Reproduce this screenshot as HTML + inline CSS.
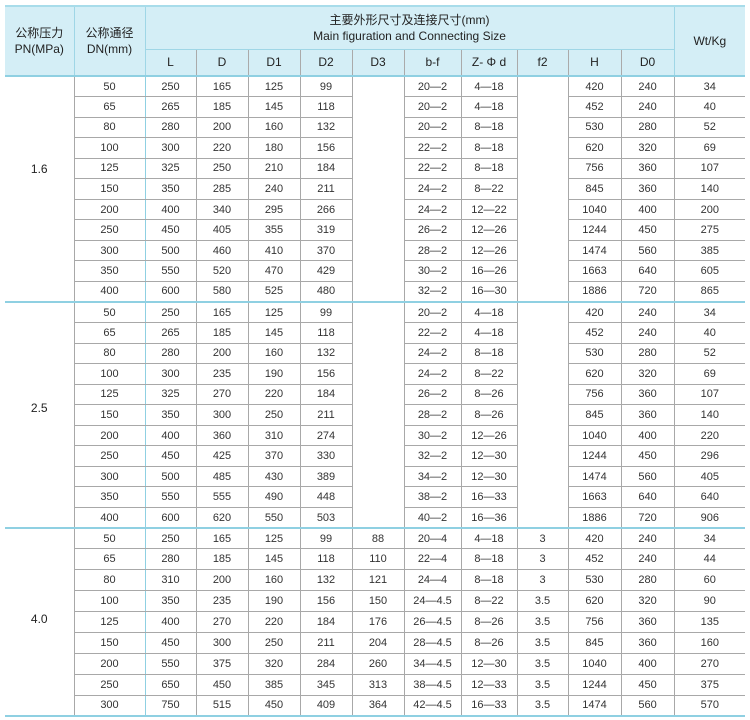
<!DOCTYPE html>
<html><head><meta charset="utf-8"><style>
body{margin:0;background:#fff;width:750px;height:720px;overflow:hidden}
table{position:absolute;left:5px;top:5px;border-collapse:collapse;table-layout:fixed;width:740px;font-family:"Liberation Sans","Noto Sans CJK SC",sans-serif;font-size:11px;color:#333}
td,th{padding:0;text-align:center;border:1px solid #a8a8a8;font-weight:normal;overflow:hidden;white-space:nowrap}
th{background:#d4eef6;border-color:#9fd6e6;font-size:12px;color:#222;line-height:16px}
thead tr:first-child th{border-top:2px solid #a8dcea}
thead tr:last-child th{border-bottom:2px solid #8fd0e2}
th.s{border-left-color:#aaa;border-right-color:#aaa;border-top-color:#aaa}
tbody tr{height:20.55px}
tbody.g3 tr{height:20.9px}
td.p{border-left:none;border-top:2px solid #8fd0e2;border-bottom:2px solid #8fd0e2;font-size:12px;color:#222;vertical-align:top}
tbody tr:first-child td{border-top:2px solid #8fd0e2}
td.bl{border-right:1px solid #8fd0e2}
td.w{border-left:1px solid #8fd0e2;border-right:none}
th.w{border-right:none}
th.f{border-left:none}
</style></head><body>
<table>
<colgroup><col style="width:69px"><col style="width:71px"><col style="width:51px"><col style="width:52px"><col style="width:52px"><col style="width:52px"><col style="width:52px"><col style="width:57px"><col style="width:56px"><col style="width:51px"><col style="width:53px"><col style="width:53px"><col style="width:71px"></colgroup>
<thead>
<tr style="height:43px"><th rowspan="2" class="f" style="vertical-align:top;padding-top:18px">公称压力<br>PN(MPa)</th><th rowspan="2" style="vertical-align:top;padding-top:18px">公称通径<br>DN(mm)</th><th colspan="10">主要外形尺寸及连接尺寸(mm)<br>Main figuration and Connecting Size</th><th rowspan="2" class="w">Wt/Kg</th></tr>
<tr style="height:27px"><th class="s">L</th><th class="s">D</th><th class="s">D1</th><th class="s">D2</th><th class="s">D3</th><th class="s">b-f</th><th class="s">Z- Φ d</th><th class="s">f2</th><th class="s">H</th><th class="s">D0</th></tr>
</thead>
<tbody>
<tr><td rowspan="11" class="p"><div style="padding-top:85px">1.6</div></td><td class="bl">50</td><td>250</td><td>165</td><td>125</td><td>99</td><td rowspan="11"></td><td>20—2</td><td>4—18</td><td rowspan="11"></td><td>420</td><td>240</td><td class="w">34</td></tr>
<tr><td class="bl">65</td><td>265</td><td>185</td><td>145</td><td>118</td><td>20—2</td><td>4—18</td><td>452</td><td>240</td><td class="w">40</td></tr>
<tr><td class="bl">80</td><td>280</td><td>200</td><td>160</td><td>132</td><td>20—2</td><td>8—18</td><td>530</td><td>280</td><td class="w">52</td></tr>
<tr><td class="bl">100</td><td>300</td><td>220</td><td>180</td><td>156</td><td>22—2</td><td>8—18</td><td>620</td><td>320</td><td class="w">69</td></tr>
<tr><td class="bl">125</td><td>325</td><td>250</td><td>210</td><td>184</td><td>22—2</td><td>8—18</td><td>756</td><td>360</td><td class="w">107</td></tr>
<tr><td class="bl">150</td><td>350</td><td>285</td><td>240</td><td>211</td><td>24—2</td><td>8—22</td><td>845</td><td>360</td><td class="w">140</td></tr>
<tr><td class="bl">200</td><td>400</td><td>340</td><td>295</td><td>266</td><td>24—2</td><td>12—22</td><td>1040</td><td>400</td><td class="w">200</td></tr>
<tr><td class="bl">250</td><td>450</td><td>405</td><td>355</td><td>319</td><td>26—2</td><td>12—26</td><td>1244</td><td>450</td><td class="w">275</td></tr>
<tr><td class="bl">300</td><td>500</td><td>460</td><td>410</td><td>370</td><td>28—2</td><td>12—26</td><td>1474</td><td>560</td><td class="w">385</td></tr>
<tr><td class="bl">350</td><td>550</td><td>520</td><td>470</td><td>429</td><td>30—2</td><td>16—26</td><td>1663</td><td>640</td><td class="w">605</td></tr>
<tr><td class="bl">400</td><td>600</td><td>580</td><td>525</td><td>480</td><td>32—2</td><td>16—30</td><td>1886</td><td>720</td><td class="w">865</td></tr>
</tbody>
<tbody>
<tr><td rowspan="11" class="p"><div style="padding-top:98px">2.5</div></td><td class="bl">50</td><td>250</td><td>165</td><td>125</td><td>99</td><td rowspan="11"></td><td>20—2</td><td>4—18</td><td rowspan="11"></td><td>420</td><td>240</td><td class="w">34</td></tr>
<tr><td class="bl">65</td><td>265</td><td>185</td><td>145</td><td>118</td><td>22—2</td><td>4—18</td><td>452</td><td>240</td><td class="w">40</td></tr>
<tr><td class="bl">80</td><td>280</td><td>200</td><td>160</td><td>132</td><td>24—2</td><td>8—18</td><td>530</td><td>280</td><td class="w">52</td></tr>
<tr><td class="bl">100</td><td>300</td><td>235</td><td>190</td><td>156</td><td>24—2</td><td>8—22</td><td>620</td><td>320</td><td class="w">69</td></tr>
<tr><td class="bl">125</td><td>325</td><td>270</td><td>220</td><td>184</td><td>26—2</td><td>8—26</td><td>756</td><td>360</td><td class="w">107</td></tr>
<tr><td class="bl">150</td><td>350</td><td>300</td><td>250</td><td>211</td><td>28—2</td><td>8—26</td><td>845</td><td>360</td><td class="w">140</td></tr>
<tr><td class="bl">200</td><td>400</td><td>360</td><td>310</td><td>274</td><td>30—2</td><td>12—26</td><td>1040</td><td>400</td><td class="w">220</td></tr>
<tr><td class="bl">250</td><td>450</td><td>425</td><td>370</td><td>330</td><td>32—2</td><td>12—30</td><td>1244</td><td>450</td><td class="w">296</td></tr>
<tr><td class="bl">300</td><td>500</td><td>485</td><td>430</td><td>389</td><td>34—2</td><td>12—30</td><td>1474</td><td>560</td><td class="w">405</td></tr>
<tr><td class="bl">350</td><td>550</td><td>555</td><td>490</td><td>448</td><td>38—2</td><td>16—33</td><td>1663</td><td>640</td><td class="w">640</td></tr>
<tr><td class="bl">400</td><td>600</td><td>620</td><td>550</td><td>503</td><td>40—2</td><td>16—36</td><td>1886</td><td>720</td><td class="w">906</td></tr>
</tbody>
<tbody class="g3">
<tr><td rowspan="9" class="p"><div style="padding-top:83px">4.0</div></td><td class="bl">50</td><td>250</td><td>165</td><td>125</td><td>99</td><td>88</td><td>20—4</td><td>4—18</td><td>3</td><td>420</td><td>240</td><td class="w">34</td></tr>
<tr><td class="bl">65</td><td>280</td><td>185</td><td>145</td><td>118</td><td>110</td><td>22—4</td><td>8—18</td><td>3</td><td>452</td><td>240</td><td class="w">44</td></tr>
<tr><td class="bl">80</td><td>310</td><td>200</td><td>160</td><td>132</td><td>121</td><td>24—4</td><td>8—18</td><td>3</td><td>530</td><td>280</td><td class="w">60</td></tr>
<tr><td class="bl">100</td><td>350</td><td>235</td><td>190</td><td>156</td><td>150</td><td>24—4.5</td><td>8—22</td><td>3.5</td><td>620</td><td>320</td><td class="w">90</td></tr>
<tr><td class="bl">125</td><td>400</td><td>270</td><td>220</td><td>184</td><td>176</td><td>26—4.5</td><td>8—26</td><td>3.5</td><td>756</td><td>360</td><td class="w">135</td></tr>
<tr><td class="bl">150</td><td>450</td><td>300</td><td>250</td><td>211</td><td>204</td><td>28—4.5</td><td>8—26</td><td>3.5</td><td>845</td><td>360</td><td class="w">160</td></tr>
<tr><td class="bl">200</td><td>550</td><td>375</td><td>320</td><td>284</td><td>260</td><td>34—4.5</td><td>12—30</td><td>3.5</td><td>1040</td><td>400</td><td class="w">270</td></tr>
<tr><td class="bl">250</td><td>650</td><td>450</td><td>385</td><td>345</td><td>313</td><td>38—4.5</td><td>12—33</td><td>3.5</td><td>1244</td><td>450</td><td class="w">375</td></tr>
<tr style="border-bottom:2px solid #8fd0e2"><td class="bl">300</td><td>750</td><td>515</td><td>450</td><td>409</td><td>364</td><td>42—4.5</td><td>16—33</td><td>3.5</td><td>1474</td><td>560</td><td class="w">570</td></tr>
</tbody>
</table>
</body></html>
